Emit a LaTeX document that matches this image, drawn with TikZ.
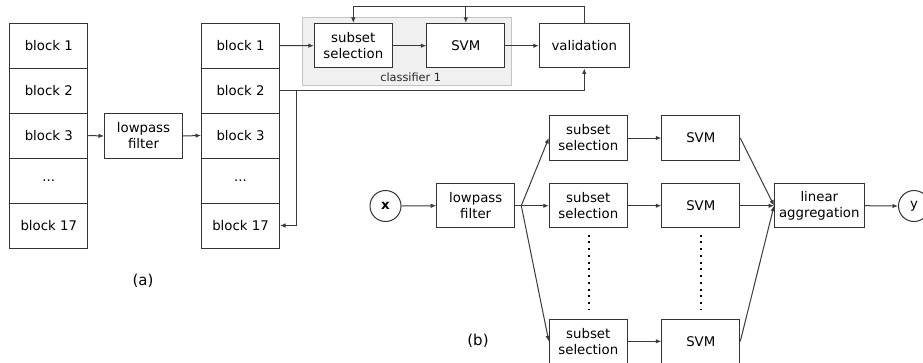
\documentclass[tikz,border=0pt]{standalone}
\usepackage{fontspec}
\setmainfont{DejaVu Sans}
\usetikzlibrary{arrows.meta}
\definecolor{edge}{HTML}{333333}
\definecolor{wire}{HTML}{3A3A3A}
\definecolor{groupfill}{HTML}{F0F0F0}
\definecolor{groupline}{HTML}{C4C4C4}
\tikzset{
  box/.style={draw=edge, line width=1pt, fill=white, minimum height=44.5pt,
    inner sep=0pt, align=center, font=\fontsize{13.3}{16}\selectfont},
  blockcell/.style={box, minimum width=78pt, minimum height=45pt},
  narrow/.style={box, minimum width=78pt},
  wide/.style={box, minimum width=89.5pt},
  signal/.style={draw=edge, line width=1pt, circle, minimum size=31pt, inner sep=0pt,
    font=\fontsize{13.3}{16}\selectfont},
  link/.style={draw=wire, line width=1pt, -{Latex[length=5.5pt,width=4.5pt]}},
  plain/.style={draw=wire, line width=1pt},
  ellipsis/.style={draw=black, line width=2pt, dash pattern=on 2pt off 4.75pt},
  caption/.style={font=\fontsize{15}{17}\selectfont}
}
\begin{document}
\begin{tikzpicture}[x=1pt,y=-1pt]
\useasboundingbox (0,0) rectangle (923,362);

% ---- (a): block split, filtering and one classifier ----
\node[blockcell] (L1) at (48.75,45.5)  {block 1};
\node[blockcell] (L2) at (48.75,90.5)  {block 2};
\node[blockcell] (L3) at (48.75,135.5) {block 3};
\node[blockcell] (L4) at (48.75,180.5) {...};
\node[blockcell] (L5) at (48.75,225.5) {block 17};
\node[blockcell] (R1) at (240.5,45.5)  {block 1};
\node[blockcell] (R2) at (240.5,90.5)  {block 2};
\node[blockcell] (R3) at (240.5,135.5) {block 3};
\node[blockcell] (R4) at (240.5,180.5) {...};
\node[blockcell] (R5) at (240.5,225.5) {block 17};

\node[narrow] (lpa) at (143.5,136) {lowpass\\filter};
\draw[link] (L3.east) -- (lpa.west);
\draw[link] (lpa.east) -- (R3.west);

\node[draw=groupline, fill=groupfill, line width=1pt, minimum width=208.7pt,
      minimum height=68.4pt, inner sep=0pt] (grp) at (406.65,51.5) {};
\node[font=\fontsize{11.3}{13}\selectfont, text=black!85] (grplbl) at (410.7,77.3) {classifier 1};
\node[narrow] (sel) at (353.3,45.7) {subset\\selection};
\node[narrow] (svm) at (465.8,45.7) {SVM};
\node[wide, minimum width=90pt] (val) at (584.3,45.7) {validation};

\draw[link] (R1.east) -- (sel.west);
\draw[link] (sel.east) -- (svm.west);
\draw[link] (svm.east) -- (val.west);

% feedback from validation to the classifier stages
\coordinate (fbtop) at (584.3,6.7);
\coordinate (fbsvm) at (465.8,6.7);
\draw[plain] (val.north) -- (fbtop) -- (fbsvm);
\draw[link] (fbsvm) -- (svm.north);
\draw[link] (fbsvm) -| (sel.north);

% held-out block 2 to validation, and on to block 17
\coordinate (splitb2) at (296.7,90.5);
\coordinate (valb) at (584.3,90.5);
\draw[link] (R2.east) -- (valb) -- (val.south);
\draw[link] (splitb2) |- (R5.east);

\node[caption] (capa) at (143,281) {(a)};

% ---- (b): ensemble of classifiers ----
\node[signal, font=\bfseries\fontsize{13.3}{16}\selectfont] (x) at (385.5,206) {x};
\node[narrow] (lpb) at (475.7,205.7) {lowpass\\filter};
\draw[link] (x.east) -- (lpb.west);
\coordinate (fan) at (521.3,205.7);

\node[narrow] (s1) at (588.3,138) {subset\\selection};
\node[narrow] (s2) at (588.3,205.7) {subset\\selection};
\node[narrow] (s3) at (588.3,341.3) {subset\\selection};
\node[narrow] (v1) at (700.8,138) {SVM};
\node[narrow] (v2) at (700.8,205.7) {SVM};
\node[narrow] (v3) at (700.8,341.3) {SVM};
\node[wide] (agg) at (819.3,205.7) {linear\\aggregation};
\node[signal] (y) at (914,206) {y};

\draw[plain] (lpb.east) -- (fan);
\draw[link] (fan) -- (s1.west);
\draw[link] (fan) -- (s2.west);
\draw[link] (fan) -- (s3.west);
\draw[link] (s1.east) -- (v1.west);
\draw[link] (s2.east) -- (v2.west);
\draw[link] (s3.east) -- (v3.west);
\draw[link] (v1.east) -- (agg.west);
\draw[link] (v2.east) -- (agg.west);
\draw[link] (v3.east) -- (agg.west);
\draw[link] (agg.east) -- (y.west);

\coordinate (dsa) at (588.5,234.5);
\coordinate (dsb) at (588.5,310);
\coordinate (dva) at (701,234.5);
\coordinate (dvb) at (701,310);
\draw[ellipsis] (dsa) -- (dsb);
\draw[ellipsis] (dva) -- (dvb);

\node[caption] (capb) at (478,341) {(b)};
\end{tikzpicture}
\end{document}
